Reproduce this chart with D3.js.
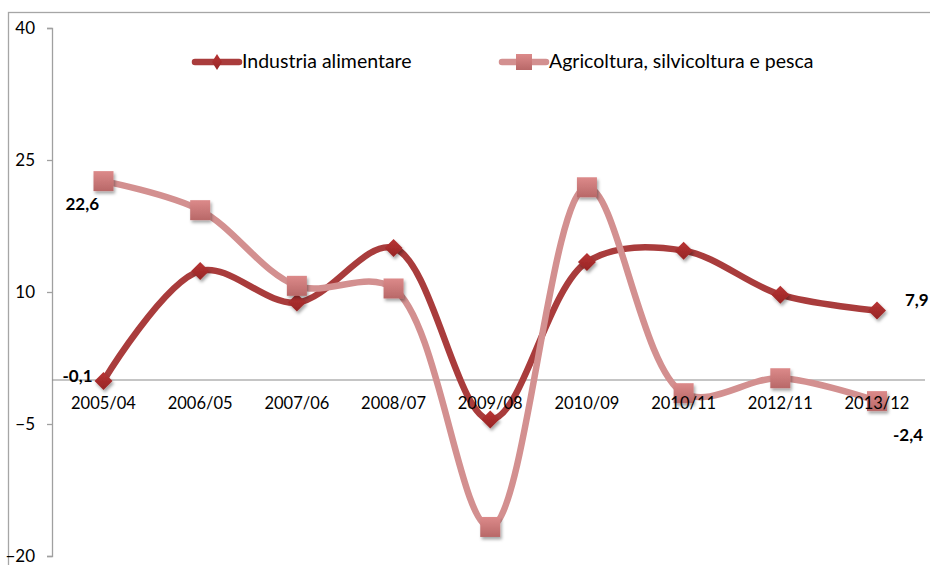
<!DOCTYPE html>
<html><head><meta charset="utf-8">
<script src="https://cdn.jsdelivr.net/npm/d3@7"></script>
<style>body{margin:0;background:#fff}svg{display:block}</style>
</head><body><svg id="c" width="930" height="565"></svg>
<script>
const categories = ["2005/04","2006/05","2007/06","2008/07","2009/08","2010/09","2010/11","2012/11","2013/12"];
const industria = [-0.1, 12.4, 8.8, 15.0, -4.5, 13.4, 14.7, 9.7, 7.9];
const agricoltura = [22.6, 19.3, 10.7, 10.4, -16.7, 21.9, -1.5, 0.2, -2.4];
const yTicks = [-20, -5, 10, 25, 40];
const seriesNames = ["Industria alimentare", "Agricoltura, silvicoltura e pesca"];

const svg = d3.select("#c");
const font = "Lato, 'Open Sans', sans-serif";
svg.append("rect").attr("x",8.5).attr("y",12.5).attr("width",940).attr("height",600)
  .attr("fill","none").attr("stroke","#a6a6a6").attr("stroke-width",1.3);

const defs = svg.append("defs");
const f = defs.append("filter").attr("id","sh").attr("x","-50%").attr("y","-50%").attr("width","200%").attr("height","200%");
f.append("feDropShadow").attr("dx",1.5).attr("dy",2.5).attr("stdDeviation",1.5).attr("flood-color","#000").attr("flood-opacity",0.35);
const g1 = defs.append("linearGradient").attr("id","gsq").attr("x1",0).attr("y1",0).attr("x2",0).attr("y2",1);
g1.append("stop").attr("offset","0").attr("stop-color","#dc8a8a");
g1.append("stop").attr("offset","1").attr("stop-color","#b86868");
const g2 = defs.append("linearGradient").attr("id","gdi").attr("x1",0).attr("y1",0).attr("x2",0).attr("y2",1);
g2.append("stop").attr("offset","0").attr("stop-color","#b83434");
g2.append("stop").attr("offset","1").attr("stop-color","#962525");

const x = d3.scalePoint().domain(categories).range([103.5, 877]);
const y = d3.scaleLinear().domain([-20, 40]).range([556, 28]);

// y axis
const ya = svg.append("g").attr("transform","translate(52,0)")
  .call(d3.axisLeft(y).tickValues(yTicks).tickSize(5).tickPadding(12));
ya.select(".domain").attr("stroke","#a0a0a0").attr("stroke-width",1.3).attr("d","M-5,28.5H0.5V556.5H-5");
ya.selectAll(".tick line").attr("stroke","#a0a0a0").attr("stroke-width",1.3);
ya.selectAll(".tick text").attr("font-family",font).attr("font-size",17).attr("fill","#000");

// zero line
svg.append("line").attr("x1",52).attr("x2",925).attr("y1",y(0)).attr("y2",y(0))
  .attr("stroke","#8c8c8c").attr("stroke-width",1.2);

const line = d3.line().x((d,i)=>x(categories[i])).y(d=>y(d)).curve(d3.curveCatmullRom.alpha(0.5));

function drawSeries(vals, color, markerFn){
  svg.append("path").attr("d",line(vals)).attr("fill","none").attr("stroke",color)
    .attr("stroke-width",6.5).attr("stroke-linecap","round").attr("stroke-linejoin","round");
  const mg = svg.append("g");
  vals.forEach((v,i)=>markerFn(mg, x(categories[i]), y(v)));
}
const square = (g,cx,cy)=>g.append("rect").attr("x",cx-10).attr("y",cy-10).attr("width",20).attr("height",20)
  .attr("fill","url(#gsq)").attr("filter","url(#sh)");
const diamond = (g,cx,cy)=>g.append("path").attr("d",`M${cx},${cy-9}L${cx+9},${cy}L${cx},${cy+9}L${cx-9},${cy}Z`)
  .attr("fill","url(#gdi)").attr("filter","url(#sh)");

drawSeries(industria, "#a93c3c", diamond);
drawSeries(agricoltura, "#d39090", square);

// category labels (drawn above the plot, as in the original)
svg.append("g").selectAll("text").data(categories).join("text")
  .attr("x",d=>x(d)).attr("y",y(0)+29).attr("text-anchor","middle")
  .attr("font-family",font).attr("font-size",16.5).attr("fill","#000").text(d=>d);

// data labels
const lab = (tx,ty,t,anchor)=>svg.append("text").attr("x",tx).attr("y",ty).attr("text-anchor",anchor||"start")
  .attr("font-family",font).attr("font-weight","bold").attr("font-size",17).attr("fill","#000").text(t);
const fmt = v=>String(v).replace(".",",");
lab(x(categories[0])-38, y(agricoltura[0])+29, fmt(agricoltura[0]));
lab(x(categories[0])-41, y(industria[0])+1, fmt(industria[0]));
lab(x(categories[8])+28, y(industria[8])-4, fmt(industria[8]));
lab(x(categories[8])+16, y(agricoltura[8])+40, fmt(agricoltura[8]));

// legend
const leg = [{n:seriesNames[0], c:"#a93c3c", m:diamond, x:192},{n:seriesNames[1], c:"#d39090", m:square, x:499}];
leg.forEach(l=>{
  svg.append("line").attr("x1",l.x+3).attr("x2",l.x+47).attr("y1",62).attr("y2",62)
    .attr("stroke",l.c).attr("stroke-width",6.5).attr("stroke-linecap","round");
  if(l.m===diamond){
    svg.append("path").attr("d",`M${l.x+25},54L${l.x+30},62L${l.x+25},70L${l.x+20},62Z`).attr("fill","url(#gdi)");
  } else {
    svg.append("rect").attr("x",l.x+17).attr("y",54).attr("width",16).attr("height",16).attr("fill","url(#gsq)");
  }
  svg.append("text").attr("x",l.x+50).attr("y",68).attr("font-family",font).attr("font-size",19.5)
    .attr("fill","#000").text(l.n);
});
</script></body></html>
